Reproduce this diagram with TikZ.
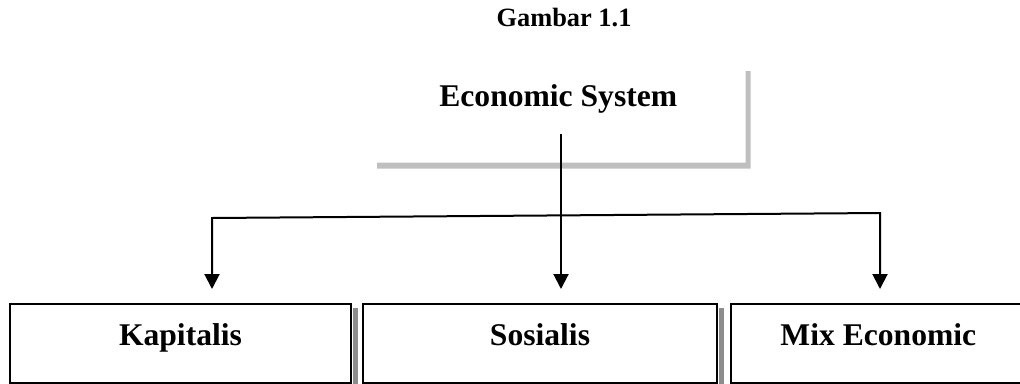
\documentclass[tikz,border=0pt]{standalone}
\usepackage{fontspec}
\setmainfont{Liberation Serif}
\usetikzlibrary{arrows.meta}
\tikzset{ebox/.style={draw,line width=1.5pt,inner sep=0pt,anchor=north west,text height=30.75pt,text depth=28.5pt,font=\fontsize{23.7}{28}\bfseries\selectfont}}
\tikzset{eshadow/.style={fill=black!45}}
\tikzset{earrow/.style={line width=1.5pt,line join=miter,-{Triangle[width=11.25pt,length=11.25pt]}}}

\begin{document}
\begin{tikzpicture}[x=0.75pt,y=-0.75pt]
    \useasboundingbox (0,0) rectangle (1020,383);
    \node[anchor=base,font=\fontsize{19.8}{24}\bfseries\selectfont] (title) at (564,26) {Gambar 1.1};
    \node[anchor=north west,inner sep=0pt,minimum width=280.5pt,text height=30pt,text depth=42pt,font=\fontsize{23.7}{28}\bfseries\selectfont] (es) at (371,66) {Economic System};
    \fill[black!25] ([yshift=-3.75pt]es.north east) -- ++(3.75pt,0) -- ([shift={(3.75pt,-4.5pt)}]es.south east) -- ([shift={(4.5pt,-4.5pt)}]es.south west) -- ([xshift=4.5pt]es.south west) -- (es.south east) -- cycle;
    \node[ebox,minimum width=255.75pt] (kap) at (9,303) {Kapitalis};
    \node[ebox,minimum width=265.5pt] (sos) at (362,303) {Sosialis};
    \node[ebox,minimum width=221pt] (mix) at (730,303) {Mix Economic};
    \fill[eshadow] ([shift={(0.75pt,-3.75pt)}]kap.north east) rectangle ([xshift=4.5pt]kap.south east);
    \fill[eshadow] ([shift={(0.75pt,-3.75pt)}]sos.north east) rectangle ([xshift=4.5pt]sos.south east);
    \coordinate (es-out) at (561,134);
    \coordinate (split-l) at (212,218);
    \coordinate (split-r) at (880,213);
    \draw[earrow,shorten >=10.5pt] (es-out) -- (es-out |- sos.north);
    \draw[earrow,{Triangle[width=11.25pt,length=11.25pt]}-{Triangle[width=11.25pt,length=11.25pt]},shorten <=10.5pt,shorten >=10.5pt] (split-l |- kap.north) -- (split-l) -- (split-r) -- (split-r |- mix.north);
\end{tikzpicture}
\end{document}
